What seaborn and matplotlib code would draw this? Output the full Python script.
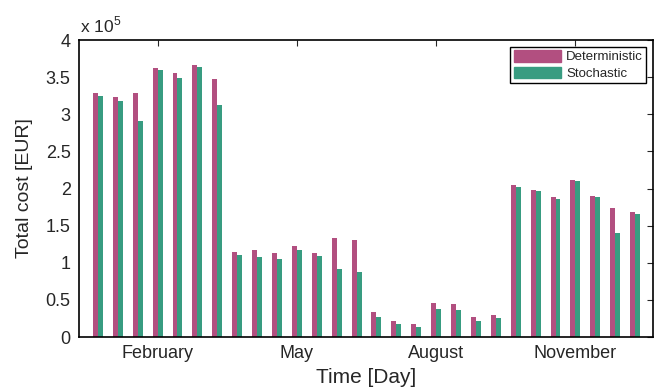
import numpy as np
import pandas as pd
import matplotlib
matplotlib.use('Agg')
import matplotlib.pyplot as plt
import matplotlib.patches as mpatches
import seaborn as sns

# total cost per sampled day, in units of 1e5 EUR
deterministic = [3.29, 3.23, 3.29, 3.62, 3.55, 3.67, 3.48,
                 1.15, 1.17, 1.13, 1.22, 1.13, 1.34, 1.31,
                 0.33, 0.21, 0.17, 0.46, 0.45, 0.27, 0.30,
                 2.05, 1.98, 1.89, 2.12, 1.90, 1.74, 1.69]
stochastic = [3.25, 3.18, 2.91, 3.59, 3.49, 3.64, 3.13,
              1.11, 1.08, 1.05, 1.17, 1.09, 0.92, 0.87,
              0.27, 0.17, 0.13, 0.38, 0.37, 0.22, 0.26,
              2.02, 1.96, 1.86, 2.10, 1.89, 1.40, 1.65]
month_labels = ['February', 'May', 'August', 'November']
month_pos = [3, 10, 17, 24]
methods = ['Deterministic', 'Stochastic']
colors = ['#B24F80', '#389C81']

days = list(range(len(deterministic)))
df = pd.DataFrame({
    'day': days * 2,
    'cost': deterministic + stochastic,
    'method': [methods[0]] * len(days) + [methods[1]] * len(days),
})

sns.set_style('white')
plt.rcParams['font.family'] = ['Liberation Sans', 'DejaVu Sans']
plt.rcParams['mathtext.fontset'] = 'custom'
plt.rcParams['mathtext.rm'] = 'Liberation Sans'

fig = plt.figure(figsize=(6.6, 3.9), dpi=100)
ax = fig.add_axes([79 / 660, 1 - 337 / 390, (653 - 79) / 660, (337 - 40) / 390])

sns.barplot(data=df, x='day', y='cost', hue='method', palette=colors,
            width=0.5, gap=0, linewidth=0, saturation=1, ax=ax, legend=False)

ax.set_xlim(-0.95, 27.9)
ax.set_ylim(0, 4)
ax.set_yticks(np.arange(0, 4.01, 0.5))
ax.set_yticklabels(['0', '0.5', '1', '1.5', '2', '2.5', '3', '3.5', '4'], fontsize=13)
ax.set_xticks(month_pos)
ax.set_xticklabels(month_labels, fontsize=13)
ax.tick_params(direction='in', top=True, right=True, length=4, width=0.8)
ax.tick_params(axis='y', pad=6)
ax.tick_params(axis='x', pad=6)
for s in ax.spines.values():
    s.set_color('black')
    s.set_linewidth(1.2)

ax.set_xlabel('Time [Day]', fontsize=15, labelpad=4)
ax.set_ylabel('Total cost [EUR]', fontsize=14, labelpad=9)
fig.text(80 / 660, 1 - 32 / 390, r'x 10$^5$', fontsize=12.5, va='baseline', ha='left')

handles = [mpatches.Patch(color=c, label=m) for c, m in zip(colors, methods)]
leg = ax.legend(handles=handles, loc='upper right', fontsize=9.5, frameon=True,
                fancybox=False, framealpha=1, edgecolor='black',
                handlelength=3.6, handleheight=1.0, borderpad=0.25,
                labelspacing=0.25, handletextpad=0.38, borderaxespad=0.5)
leg.get_frame().set_linewidth(1.0)

fig.savefig('out.png', dpi=100)
